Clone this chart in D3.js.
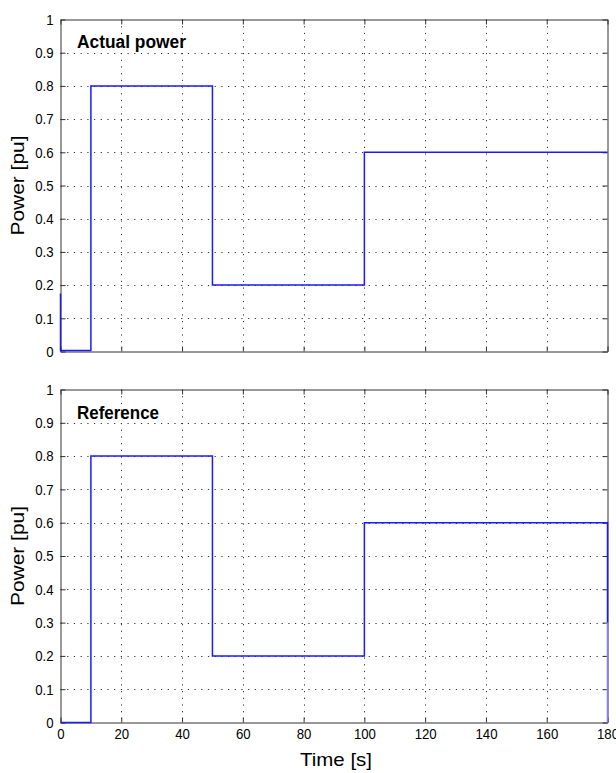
<!DOCTYPE html>
<html><head><meta charset="utf-8">
<script src="https://cdn.jsdelivr.net/npm/d3@7"></script>
<style>body{margin:0;background:#fff;} svg{display:block;}</style>
</head><body>
<svg id="c" width="616" height="773"></svg>
<script>
// ---- data ----
const xTicks = [0,20,40,60,80,100,120,140,160,180];
const xTickLabels = ["0","20","40","60","80","100","120","140","160","180"];
const yTicks = [0,0.1,0.2,0.3,0.4,0.5,0.6,0.7,0.8,0.9,1];
const yTickLabels = ["0","0.1","0.2","0.3","0.4","0.5","0.6","0.7","0.8","0.9","1"];
const actualTime  = [0, 0,     10,    10,  50,  50,  100, 100, 180];
const actualPower = [0.175, 0.003, 0.003, 0.8, 0.8, 0.2, 0.2, 0.6, 0.6];
const refTime  = [0, 10, 10,  50,  50,  100, 100, 180, 180];
const refPower = [0, 0,  0.8, 0.8, 0.2, 0.2, 0.6, 0.6, 0.3];
const refTailTime = [180, 180];
const refTailPower = [0.3, 0];
const titles = ["Actual power", "Reference"];
const yLabel = "Power [pu]";
const xLabel = "Time [s]";

const svg = d3.select("#c");
const X0 = 60.5, X1 = 607.5;
const x = d3.scaleLinear().domain([0,180]).range([X0, X1]);
const font = "'Liberation Sans', Arial, sans-serif";
const axisColor = "#333";

function squeeze(sel, f){
  sel.each(function(){
    const w = this.getComputedTextLength();
    d3.select(this).attr("textLength", w*f).attr("lengthAdjust","spacingAndGlyphs");
  });
}

function panel(top, bottom, title, titleBase, titleW, series, showX){
  const y = d3.scaleLinear().domain([0,1]).range([bottom, top]);
  const g = svg.append("g");
  // grid
  g.append("g").selectAll("line.gx").data(xTicks.slice(1,-1)).join("line")
    .attr("x1", d=>Math.round(x(d))+0.5).attr("x2", d=>Math.round(x(d))+0.5)
    .attr("y1", top).attr("y2", bottom)
    .attr("stroke","#333").attr("stroke-width",1).attr("stroke-dasharray","1.2,5.5");
  g.append("g").selectAll("line.gy").data(yTicks.slice(1,-1)).join("line")
    .attr("y1", d=>Math.round(y(d))+0.5).attr("y2", d=>Math.round(y(d))+0.5)
    .attr("x1", X0).attr("x2", X1)
    .attr("stroke","#333").attr("stroke-width",1).attr("stroke-dasharray","1.2,5.5");
  // axes
  const ax = [];
  ax.push(g.append("g").attr("transform",`translate(${X0},0)`)
    .call(d3.axisLeft(y).tickValues(yTicks).tickFormat((d,i)=>yTickLabels[i]).tickSizeInner(-5).tickSizeOuter(0).tickPadding(7)));
  ax.push(g.append("g").attr("transform",`translate(${X1},0)`)
    .call(d3.axisRight(y).tickValues(yTicks).tickFormat("").tickSizeInner(-5).tickSizeOuter(0)));
  ax.push(g.append("g").attr("transform",`translate(0,${top})`)
    .call(d3.axisTop(x).tickValues(xTicks).tickFormat("").tickSizeInner(-5).tickSizeOuter(0)));
  const bx = g.append("g").attr("transform",`translate(0,${bottom})`)
    .call(d3.axisBottom(x).tickValues(xTicks).tickFormat(showX ? (d,i)=>xTickLabels[i] : "").tickSizeInner(-5).tickSizeOuter(0).tickPadding(6));
  ax.push(bx);
  ax.forEach(a=>{
    a.selectAll("path.domain, line").attr("stroke",axisColor).attr("stroke-width",1);
    a.selectAll("text").attr("fill","#000").style("font-family",font).style("font-size","15px");
    squeeze(a.selectAll("text"), 0.88);
  });
  // series
  const line = d3.line().x(d=>x(d[0])).y(d=>y(d[1]));
  series.forEach(s=>{
    g.append("path").datum(s.t.map((t,i)=>[t, s.v[i]]))
      .attr("d", line).attr("fill","none").attr("stroke", s.color).attr("stroke-width", s.w);
  });
  // title
  g.append("text").attr("x",77).attr("y",titleBase).text(title)
    .style("font-family",font).style("font-size","18px").style("font-weight","bold")
    .attr("textLength",titleW).attr("lengthAdjust","spacingAndGlyphs");
  // y label
  g.append("text").attr("transform",`translate(24,${(top+bottom)/2}) rotate(-90)`)
    .attr("text-anchor","middle").text(yLabel)
    .style("font-family",font).style("font-size","19px")
    .attr("textLength",100).attr("lengthAdjust","spacingAndGlyphs");
  return y;
}

panel(19.5, 351.5, titles[0], 48, 109, [
  {t: actualTime, v: actualPower, color:"#1a1aff", w:1.5}
], false);
panel(389.5, 722.5, titles[1], 419, 82, [
  {t: refTailTime, v: refTailPower, color:"#7f7fff", w:1.5},
  {t: refTime, v: refPower, color:"#1a1aff", w:1.5}
], true);

svg.append("text").attr("x",336).attr("y",766).attr("text-anchor","middle").text(xLabel)
  .style("font-family",font).style("font-size","19px")
  .attr("textLength",72).attr("lengthAdjust","spacingAndGlyphs");
</script>
</body></html>
